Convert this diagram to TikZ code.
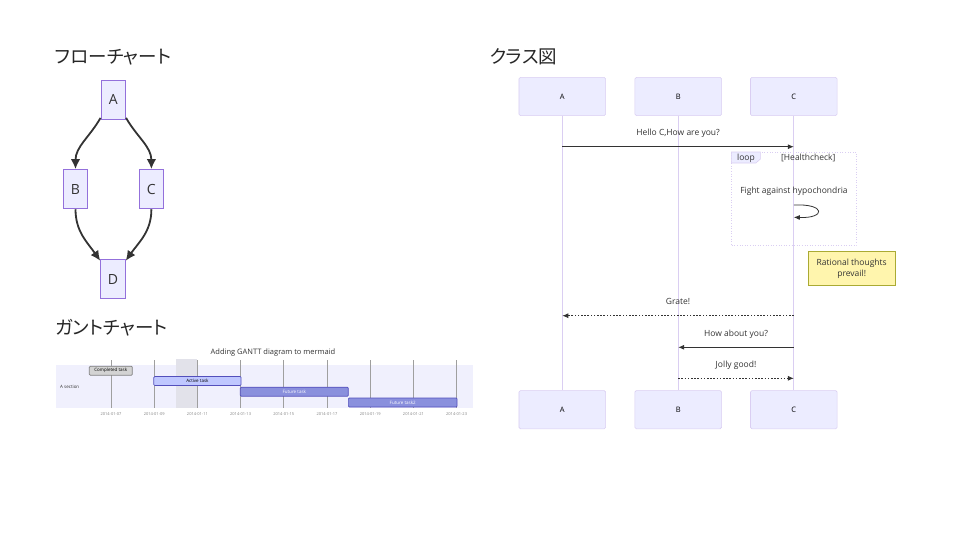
\documentclass[tikz,border=0pt]{standalone}
\usepackage{fontspec}
\setmainfont{Open Sans}
\newfontfamily\jpfont[RawFeature=+palt]{Noto Sans CJK JP}
\usepackage{tikz}
\usetikzlibrary{arrows, arrows.meta, shapes, positioning}
\definecolor{nodefill}{HTML}{ECECFF}
\definecolor{nodeline}{HTML}{9370DB}
\definecolor{lifecol}{HTML}{DACEF2}
\definecolor{edgecol}{HTML}{333333}
\definecolor{notefill}{HTML}{FFF5AD}
\definecolor{noteline}{HTML}{AAAA33}
\definecolor{bandcol}{RGB}{240,240,253}
\definecolor{todaycol}{RGB}{226,226,234}
\definecolor{donefill}{HTML}{D3D3D3}
\definecolor{doneline}{HTML}{808080}
\definecolor{activefill}{HTML}{BFC7FF}
\definecolor{taskline}{HTML}{534FBC}
\definecolor{futurefill}{HTML}{8A90DD}

\begin{document}
\begin{tikzpicture}[x=1pt, y=1pt,
    title/.style={inner sep=0pt, anchor=west, text=black!85, font=\jpfont\fontsize{18.5}{22}\selectfont},
    fnode/.style={rectangle, draw=nodeline, fill=nodefill, line width=0.8pt, minimum width=24.7pt, minimum height=39.3pt, inner sep=0pt, text=edgecol, font=\fontsize{14}{16}\selectfont},
    fedge/.style={draw=edgecol, line width=1.8pt, -{Latex[length=10pt, width=9.5pt]}},
    actor/.style={rectangle, rounded corners=1.5pt, draw=lifecol, fill=nodefill, line width=0.6pt, minimum width=86.7pt, minimum height=38.3pt, inner sep=0pt, font=\fontsize{7.5}{9}\selectfont},
    life/.style={draw=lifecol, line width=0.9pt},
    msg/.style={draw=edgecol, line width=0.8pt, -{Latex[length=6pt, width=5pt]}},
    dmsg/.style={msg, dash pattern=on 1.6pt off 1.6pt},
    mlabel/.style={inner sep=0pt, anchor=base, text=edgecol, font=\fontsize{8.5}{10}\selectfont},
    note/.style={rectangle, draw=noteline, fill=notefill, line width=0.6pt, minimum width=86.7pt, minimum height=33.3pt, inner sep=0pt, align=center, text=edgecol, font=\fontsize{8.5}{11}\selectfont},
    task/.style={rectangle, rounded corners=1pt, line width=0.7pt, minimum height=9pt, inner sep=0pt, font=\fontsize{4.5}{5}\selectfont},
    tick/.style={inner sep=0pt, text=gray, font=\fontsize{4}{5}\selectfont}]
    \useasboundingbox (0,0) rectangle (980,-552);

    % flowchart
    \node[title] (ftitle) at (55,-56.7) {フローチャート};
    \node[fnode] (A) at (113.3,-99.7) {A};
    \node[fnode] (B) [below left = 49.4pt and 12.3pt of A] {B};
    \node[fnode] (C) [below right = 49.4pt and 12.6pt of A] {C};
    \node[fnode] (D) [below right = 49.7pt and 12pt of B] {D};

    \path (A.235) edge [fedge, out=240, in=90] (B.north);
    \path (A.-55) edge [fedge, out=-60, in=90] (C.north);
    \path (B.south) edge [fedge, out=-90, in=125] (D.125);
    \path (C.south) edge [fedge, out=-90, in=55] (D.55);

    % gantt
    \node[title] (gtitle) at (55,-327.5) {ガントチャート};
    \node[inner sep=0pt, text=edgecol, font=\fontsize{7.5}{9}\selectfont] (gname) at (273,-353) {Adding GANTT diagram to mermaid};
    \fill[bandcol] (56,-365) rectangle (472.7,-407.7);
    \fill[todaycol] (175.7,-359) rectangle (197.3,-408.3);
    \foreach \k/\d in {0/07,1/09,2/11,3/13,4/15,5/17,6/19,7/21,8/23} {
        \draw[gray!75, line width=0.7pt] (111+43.2*\k,-360) -- (111+43.2*\k,-408.3);
        \node[tick] at (111+43.2*\k,-413.7) {2014-01-\d};
    }
    \node[inner sep=0pt, anchor=west, text=edgecol, font=\fontsize{4.5}{5}\selectfont] (sec) at (60,-387.3) {A section};
    \node[task, fill=donefill, draw=doneline, minimum width=43pt] (t1) at (110.8,-370.7) {Completed task};
    \node[task, fill=activefill, draw=taskline, minimum width=87.3pt] (t2) at (197.4,-381) {Active task};
    \node[task, fill=futurefill, draw=taskline, minimum width=108pt, text=white] (t3) at (294.3,-391.7) {Future task};
    \node[task, fill=futurefill, draw=taskline, minimum width=108.7pt, text=white] (t4) at (402.7,-402.5) {Future task2};

    % sequence
    \node[title] (stitle) at (489.5,-56.7) {クラス図};
    \node[actor] (tA) at (562.3,-96.5) {A};
    \node[actor] (tB) [right = 28.6pt of tA] {B};
    \node[actor] (tC) [right = 28.3pt of tB] {C};
    \node[actor] (bA) [below = 274.3pt of tA] {A};
    \node[actor] (bB) [below = 274.3pt of tB] {B};
    \node[actor] (bC) [below = 274.3pt of tC] {C};
    \draw[life] (tA) -- (bA);
    \draw[life] (tB) -- (bB);
    \draw[life] (tC) -- (bC);

    \node[rectangle, draw=lifecol, dotted, line width=0.6pt, minimum width=125pt, minimum height=92.7pt, inner sep=0pt] (loop) at (794.2,-198.65) {};
    \draw[draw=lifecol, fill=nodefill, line width=0.6pt] (loop.north west) -- ++(29,0) -- ++(0,-7) -- ++(-4.5,-4) -- ++(-24.5,0) -- cycle;
    \node[mlabel, anchor=center] (ltag) at (746,-158) {loop};
    \node[mlabel, anchor=center] (lcond) at (808.3,-158.3) {[Healthcheck]};

    \coordinate (m1) at (0,-146.7);
    \coordinate (s1) at (0,-205);
    \coordinate (s2) at (0,-217.3);
    \coordinate (m2) at (0,-315.7);
    \coordinate (m3) at (0,-347.3);
    \coordinate (m4) at (0,-378.3);
    \draw[msg] (tA |- m1) -- node[mlabel, midway, yshift=11.3pt] {Hello C,How are you?} (tC |- m1);
    \node[mlabel, anchor=center] (self) at (794,-191.7) {Fight against hypochondria};
    \draw[msg] (tC |- s1) .. controls (826,-203.5) and (826,-218.5) .. (tC |- s2);
    \node[note] (N) at (851.7,-268.3) {Rational thoughts\\prevail!};
    \draw[dmsg] (tC |- m2) -- node[mlabel, midway, yshift=11.3pt] {Grate!} (tA |- m2);
    \draw[msg] (tC |- m3) -- node[mlabel, midway, yshift=11.3pt] {How about you?} (tB |- m3);
    \draw[dmsg] (tB |- m4) -- node[mlabel, midway, yshift=11.3pt] {Jolly good!} (tC |- m4);
\end{tikzpicture}
\end{document}
